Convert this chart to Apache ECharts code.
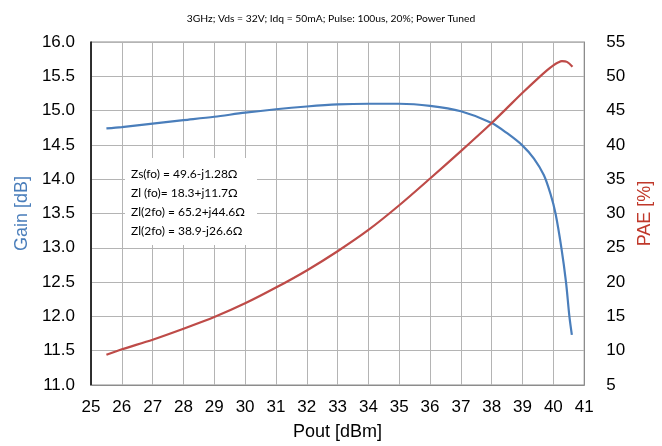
<!DOCTYPE html>
<html><head><meta charset="utf-8">
<script src="https://cdn.jsdelivr.net/npm/echarts@6/dist/echarts.min.js"></script>
<style>html,body{margin:0;padding:0;background:#fff}#c{width:662px;height:446px}</style>
</head><body><div id="c"></div>
<script>
var titleText = '3GHz; Vds = 32V; Idq = 50mA; Pulse: 100us, 20%; Power Tuned';
var poutGain = [25.5, 26, 27, 28, 29, 30, 31, 32, 33, 34, 35, 36, 37, 38, 38.5, 39, 39.37, 39.69, 39.91, 40.07, 40.26, 40.41, 40.52, 40.6];
var gain     = [14.74, 14.76, 14.81, 14.86, 14.91, 14.97, 15.02, 15.06, 15.09, 15.10, 15.10, 15.07, 14.99, 14.82, 14.67, 14.49, 14.30, 14.06, 13.78, 13.50, 13.00, 12.50, 12.00, 11.73];
var poutPae  = [25.5, 26, 27, 28, 29, 30, 31, 32, 33, 34, 35, 36, 37, 38, 38.5, 39, 39.5, 39.8, 40, 40.15, 40.28, 40.44, 40.62];
var pae      = [9.4, 10.2, 11.6, 13.2, 14.9, 16.9, 19.2, 21.7, 24.5, 27.6, 31.2, 35.1, 39.1, 43.2, 45.4, 47.6, 49.7, 50.9, 51.6, 52.0, 52.2, 52.1, 51.4];
var notes = ['Zs(fo) = 49.6-j1.28\u03A9', 'Zl (fo)= 18.3+j11.7\u03A9', 'Zl(2fo) = 65.2+j44.6\u03A9', 'Zl(2fo) = 38.9-j26.6\u03A9'];

var chart = echarts.init(document.getElementById('c'));
function pair(xs, ys){ return xs.map(function(x,i){return [x, ys[i]];}); }
var gridColor = '#b4b4b4';
var font = 'Liberation Sans, Arial, sans-serif';
chart.setOption({
  animation: false,
  title: { text: titleText, left: 'center', top: 9, textStyle: { fontSize: 10.3, fontWeight: 'normal', color: '#000', fontFamily: 'Lato, sans-serif' } },
  grid: { left: 91, right: 73, top: 42, bottom: 61, show: true, borderColor: '#8c8c8c', borderWidth: 1 },
  xAxis: {
    type: 'value', min: 25, max: 41, interval: 1,
    name: 'Pout [dBm]', nameLocation: 'middle', nameGap: 38,
    nameTextStyle: { fontSize: 18, color: '#000', fontFamily: font },
    axisLine: { show: true, lineStyle: { color: '#8c8c8c' } },
    axisTick: { show: false },
    axisLabel: { fontSize: 17, color: '#000', fontFamily: font, margin: 14 },
    splitLine: { show: true, lineStyle: { color: gridColor } }
  },
  yAxis: [{
    type: 'value', min: 11, max: 16, interval: 0.5,
    name: 'Gain [dB]', nameLocation: 'middle', nameGap: 60,
    nameTextStyle: { fontSize: 18, color: '#4a7ebb', fontFamily: font },
    axisLine: { show: true, lineStyle: { color: '#000', width: 1.5 } },
    axisTick: { show: false },
    axisLabel: { fontSize: 17, color: '#000', fontFamily: font, margin: 16, formatter: function(v){return v.toFixed(1);} },
    splitLine: { show: true, lineStyle: { color: gridColor } }
  }, {
    type: 'value', min: 5, max: 55, interval: 5, position: 'right',
    name: 'PAE [%]', nameLocation: 'middle', nameGap: 50,
    nameTextStyle: { fontSize: 18, color: '#c0392b', fontFamily: font },
    axisLine: { show: true, lineStyle: { color: '#8c8c8c' } },
    axisTick: { show: false },
    axisLabel: { fontSize: 17, color: '#000', fontFamily: font, margin: 22 },
    splitLine: { show: false }
  }],
  series: [{
    type: 'line', yAxisIndex: 0, data: pair(poutGain, gain), smooth: 0.3, showSymbol: false,
    lineStyle: { color: '#4a7ebb', width: 2.2 }, z: 3
  }, {
    type: 'line', yAxisIndex: 1, data: pair(poutPae, pae), smooth: 0.3, showSymbol: false,
    lineStyle: { color: '#be4b48', width: 2.2 }, z: 3
  }],
  graphic: [{
    type: 'rect', left: 125, top: 158, shape: { width: 132, height: 87 },
    style: { fill: '#fff' }, z: 5
  }, {
    type: 'text', left: 131, top: 165, z: 6,
    style: { text: notes.join('\n'), fontSize: 12, lineHeight: 19, fill: '#000', fontFamily: 'Lato, sans-serif' }
  }]
});
</script></body></html>
